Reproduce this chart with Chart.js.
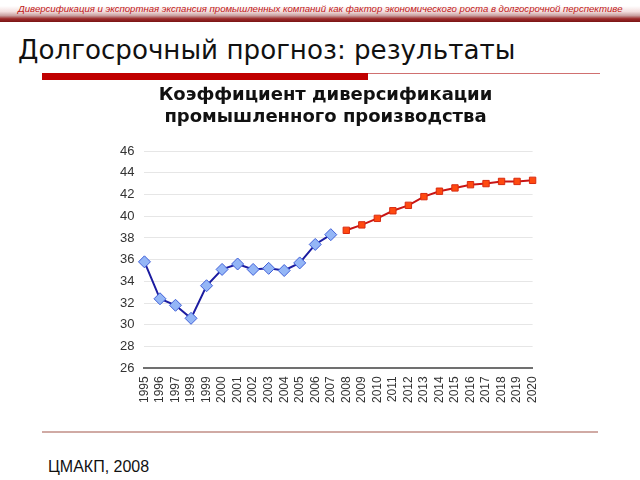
<!DOCTYPE html>
<html>
<head>
<meta charset="utf-8">
<script src="https://cdn.jsdelivr.net/npm/chart.js@4"></script>
<style>
  html, body { margin: 0; padding: 0; background: #fff; width: 640px; height: 480px; overflow: hidden; }
  #page { position: relative; width: 640px; height: 480px; font-family: "Liberation Sans", Arial, sans-serif; }
  #topbar { position: absolute; left: 0; top: 6px; width: 640px; height: 16px;
    background: linear-gradient(to bottom, #ffffff 0%, #f3dede 35%, #c9a0a0 60%, #9c2a2a 80%, #7a1414 100%); }
  #toptext { position: absolute; left: 18px; top: 3px; white-space: nowrap; font-style: italic; font-size: 9.5px;
    color: #c01818; transform-origin: left top; }
  #heading { position: absolute; left: 18px; top: 35px; font-family: "DejaVu Sans", sans-serif; font-size: 26px; color: #111; white-space: nowrap; transform-origin: left top; }
  #redbar { position: absolute; left: 42px; top: 73px; width: 326px; height: 7px; background: #c00000; }
  #thinline { position: absolute; left: 368px; top: 73px; width: 232px; height: 1px; background: #d07070; }
  #bottomline { position: absolute; left: 42px; top: 431px; width: 556px; height: 2px; background: #d0aaa4; }
  #source { position: absolute; left: 48px; top: 458px; font-size: 16px; color: #111; }
  #chartbox { position: absolute; left: 110px; top: 84px; width: 445px; height: 327px; }
</style>
</head>
<body>
<div id="page">
  <div id="topbar"></div>
  <div id="toptext">Диверсификация и экспортная экспансия промышленных компаний как фактор экономического роста в долгосрочной перспективе</div>
  <div id="heading">Долгосрочный прогноз: результаты</div>
  <div id="redbar"></div>
  <div id="thinline"></div>
  <div id="chartbox"><canvas id="c"></canvas></div>
  <div id="bottomline"></div>
  <div id="source">ЦМАКП, 2008</div>
</div>
<script>
const years = ["1995","1996","1997","1998","1999","2000","2001","2002","2003","2004","2005","2006","2007",
               "2008","2009","2010","2011","2012","2013","2014","2015","2016","2017","2018","2019","2020"];
const actual = [35.8, 32.4, 31.8, 30.6, 33.6, 35.1, 35.6, 35.1, 35.2, 35.0, 35.7, 37.4, 38.3,
                null, null, null, null, null, null, null, null, null, null, null, null, null];
const forecast = [null, null, null, null, null, null, null, null, null, null, null, null, null,
                  38.7, 39.2, 39.8, 40.5, 41.0, 41.8, 42.3, 42.6, 42.9, 43.0, 43.2, 43.2, 43.3];
const yTicks = [26, 28, 30, 32, 34, 36, 38, 40, 42, 44, 46];
const chartTitle = ["Коэффициент диверсификации", "промышленного производства"];

(function(){
  const t = document.getElementById('toptext');
  t.style.transform = 'scaleX(' + (604 / t.scrollWidth) + ')';
  const h = document.getElementById('heading');
  h.style.transform = 'scaleX(' + (497 / h.scrollWidth) + ')';
})();

new Chart(document.getElementById('c'), {
  type: 'line',
  data: {
    labels: years,
    datasets: [
      { data: actual, borderColor: '#1c1ca0', borderWidth: 2, pointStyle: 'rectRot', pointRadius: 6,
        pointBackgroundColor: '#94b6f6', pointBorderColor: '#4060d8', pointBorderWidth: 1, tension: 0, spanGaps: false },
      { data: forecast, borderColor: '#c81414', borderWidth: 2, pointStyle: 'rect', pointRadius: 4.5,
        pointBackgroundColor: '#ff4a10', pointBorderColor: '#d82a10', pointBorderWidth: 1, tension: 0, spanGaps: false }
    ]
  },
  options: {
    responsive: true,
    maintainAspectRatio: false,
    animation: false,
    layout: { padding: { left: 0, right: 14, top: 0, bottom: 0 } },
    plugins: {
      legend: { display: false },
      tooltip: { enabled: false },
      title: { display: true, text: chartTitle, color: '#111',
        font: { family: 'DejaVu Sans', size: 18, weight: 'bold', lineHeight: 1.25 },
        padding: { top: 0, bottom: 22 } }
    },
    scales: {
      x: {
        offset: false,
        grid: { display: false, drawTicks: false },
        border: { display: true, color: '#707070', width: 2 },
        ticks: { color: '#333', font: { family: 'Liberation Sans', size: 12 }, minRotation: 90, maxRotation: 90,
          autoSkip: false, padding: 8 }
      },
      y: {
        min: 26, max: 46,
        afterBuildTicks: (axis) => { axis.ticks = yTicks.map(v => ({ value: v })); },
        grid: { color: '#e6e6e6', lineWidth: 1, drawTicks: false },
        border: { display: false },
        ticks: { color: '#333', font: { family: 'Liberation Sans', size: 13 }, padding: 10 }
      }
    }
  }
});
</script>
</body>
</html>
